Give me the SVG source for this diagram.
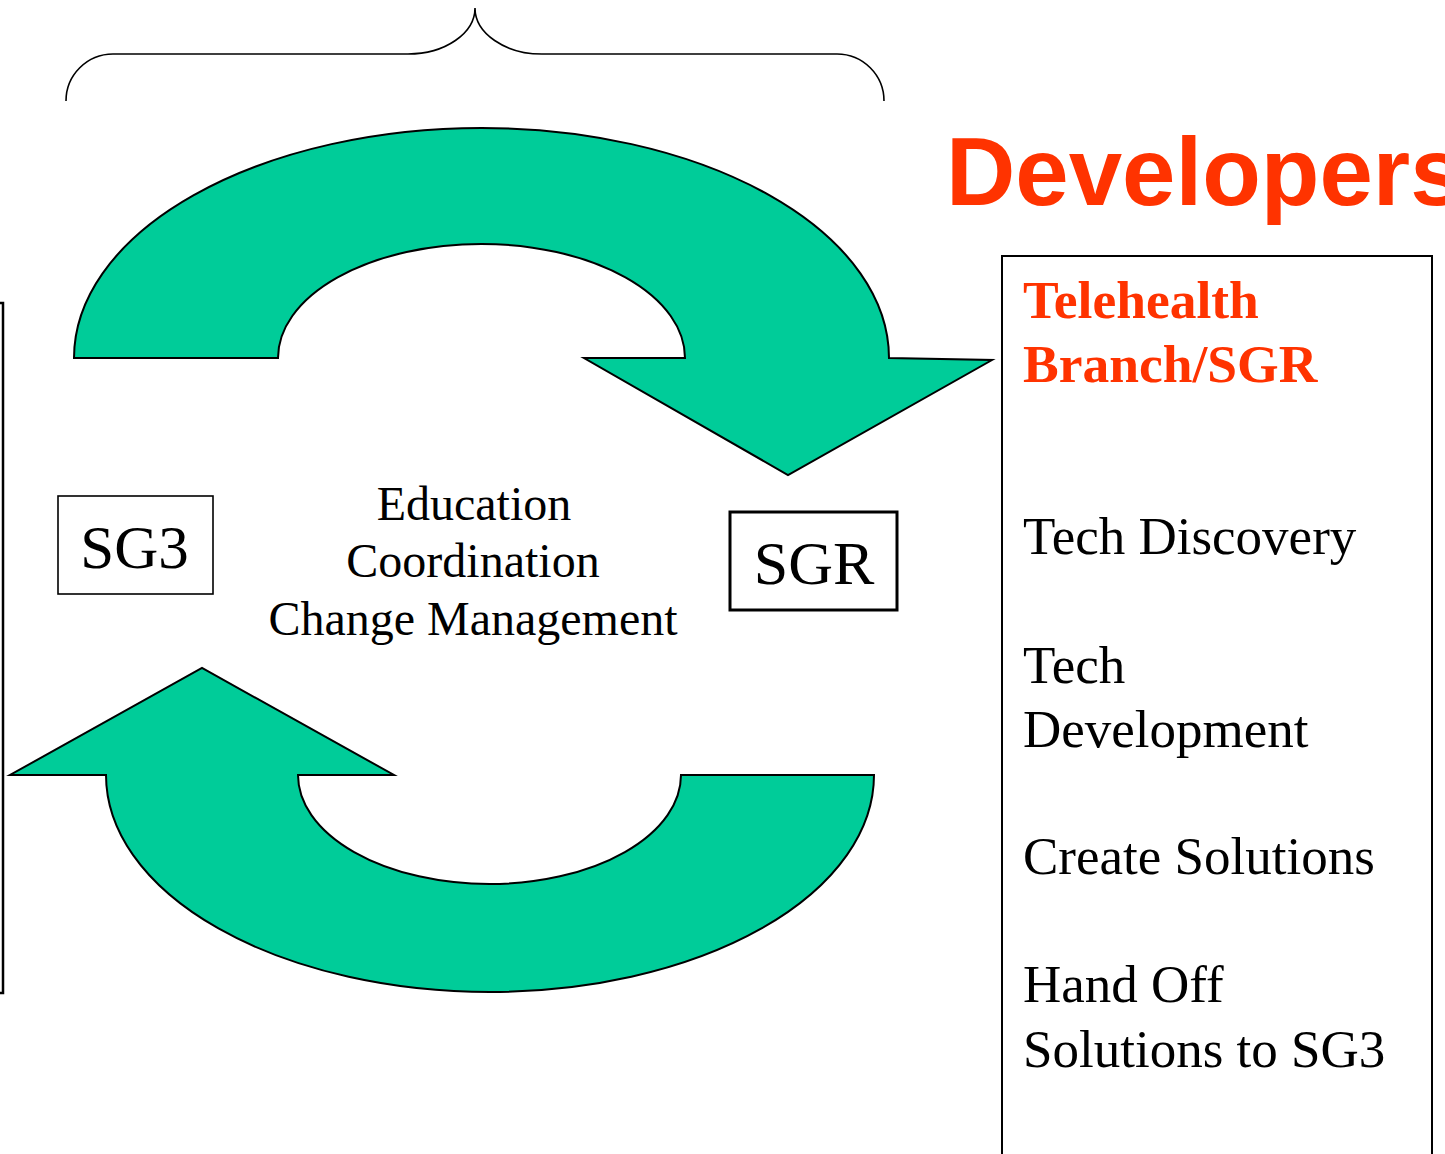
<svg xmlns="http://www.w3.org/2000/svg" width="1445" height="1154" viewBox="0 0 1445 1154">
<style>
.arrow{fill:#00CC99;stroke:#000;stroke-width:2;stroke-linejoin:miter}
.box{fill:#fff;stroke:#000}
.serif{font-family:"Liberation Serif","Times New Roman",serif;fill:#000}
.red{fill:#FF3300}
</style>
<rect width="1445" height="1154" fill="#fff"/>
<g id="brace">
<path d="M66,101 A47,47 0 0 1 113,54 L408,54 A67,46 0 0 0 475,8 A67,46 0 0 0 542,54 L837,54 A47,47 0 0 1 884,101" fill="none" stroke="#000" stroke-width="1.6"/>
</g>
<g id="left-frame">
<rect x="-100" y="303" width="103" height="690" fill="none" stroke="#000" stroke-width="2.5"/>
</g>
<g id="connectors">
<path class="arrow" d="M74,358 A407.5,230 0 0 1 889,358 L992,360 L788,475 L584,358 L685,358 A203.5,114 0 0 0 278,358 Z"/>
<path class="arrow" d="M106,775 A384,217 0 0 0 874,775 L681,775 A191.5,109 0 0 1 298,775 L394,775 L202,668 L10,775 Z"/>
</g>
<g id="node-sg3">
<rect class="box" x="58" y="496" width="155" height="98" stroke-width="1.6"/>
<text class="serif" x="134.5" y="568" font-size="61" text-anchor="middle">SG3</text>
</g>
<g id="node-sgr">
<rect class="box" x="730" y="512" width="167" height="98" stroke-width="3"/>
<text class="serif" x="814" y="584" font-size="62" text-anchor="middle">SGR</text>
</g>
<g id="node-center">
<text class="serif" font-size="48" text-anchor="middle">
<tspan x="480" y="520">Education</tspan>
<tspan x="479" y="577">Coordination</tspan>
<tspan x="473" y="635">Change Management</tspan>
</text>
</g>
<g id="title">
<text x="946" y="205" font-family="Liberation Sans, Arial, sans-serif" font-weight="bold" font-size="96" class="red">Developers</text>
</g>
<g id="node-developers">
<rect class="box" x="1002" y="256" width="430" height="910" stroke-width="2"/>
<text class="serif red" font-weight="bold" font-size="53.5">
<tspan x="1023" y="318">Telehealth</tspan>
<tspan x="1023" y="382">Branch/SGR</tspan>
</text>
<text class="serif" font-size="53">
<tspan x="1023" y="554">Tech Discovery</tspan>
<tspan x="1023" y="683">Tech</tspan>
<tspan x="1023" y="747">Development</tspan>
<tspan x="1023" y="874">Create Solutions</tspan>
<tspan x="1023" y="1002">Hand Off</tspan>
<tspan x="1023" y="1067">Solutions to SG3</tspan>
</text>
</g>
</svg>
